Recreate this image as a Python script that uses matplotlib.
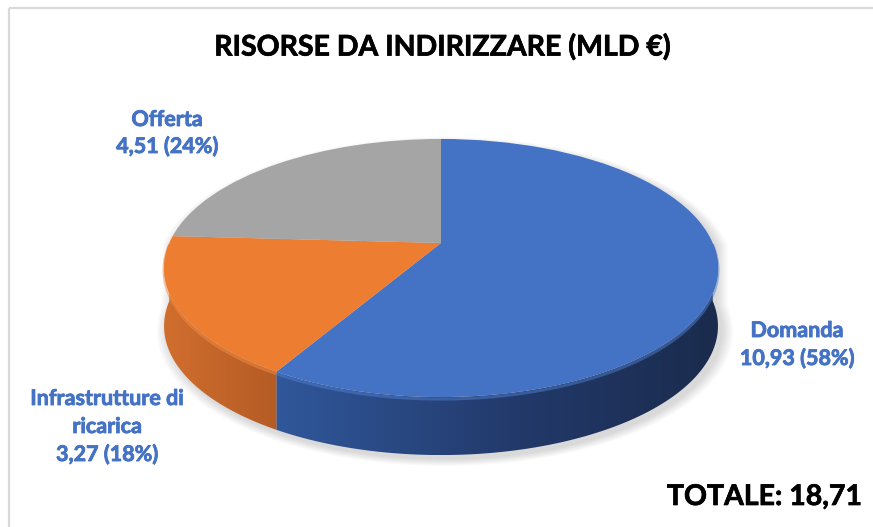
import numpy as np
import matplotlib
matplotlib.use("Agg")
import matplotlib.pyplot as plt
import matplotlib.patheffects as pe
from matplotlib.transforms import Transform
from matplotlib.patches import Polygon
from matplotlib.colors import to_rgb

# ---------------- data ----------------
categories = ["Domanda", "Infrastrutture di\nricarica", "Offerta"]
values = [10.93, 3.27, 4.51]
pct_labels = [58, 18, 24]
top_colors = ["#4472C4", "#ED7D31", "#A5A5A5"]
title = "RISORSE DA INDIRIZZARE (MLD €)"
total_prefix = "TOTALE: "

# ---------------- layout / style ----------------
W, H = 873, 527
FONT = ["Lato", "DejaVu Sans"]
LABEL_COLOR = "#4472C4"
APEX_X, APEX_Y = 441, 243      # pie centre on screen (px)
A_, B_, E_ = 271.7, 124.2, 0.1938   # perspective parameters
THICK = 58                     # side depth (px)
# side gradient anchors along screen x (px)
side_grad = [[(280, "#30579A"), (520, "#22396A"), (720, "#1A2B4C")],
             [(160, "#D26F2E"), (285, "#B25A24")],
             [(160, "#7F7F7F"), (720, "#5F5F5F")]]
bevel_colors = ["#4F7FCF", "#F38C42", "#BDBDBD"]
label_layout = [(797, [337, 365]), (107, [405, 433, 461]), (167, [126, 153])]


class Perspective(Transform):
    """Maps the unit pie disc to a tilted disc on screen (pixel coords)."""
    input_dims = output_dims = 2
    is_separable = False
    has_inverse = False

    def transform_non_affine(self, xy):
        xy = np.asarray(xy, dtype=float)
        u, v = xy[:, 0], xy[:, 1]
        d = 1 + E_ * v
        return np.column_stack([APEX_X + A_ * u / d, APEX_Y - B_ * v / d])


persp = Perspective()

fig = plt.figure(figsize=(W / 100, H / 100), dpi=100)
ax = fig.add_axes([0, 0, 1, 1])

wedges, _ = ax.pie(values, colors=top_colors, startangle=90,
                   counterclock=False, radius=1, center=(0, 0),
                   wedgeprops=dict(linewidth=0, zorder=5))
for w in wedges:
    w.set_transform(persp + ax.transData)


def edge(ts):
    return persp.transform(np.column_stack([np.cos(ts), np.sin(ts)]))


# shadow
t_all = np.linspace(0, 2 * np.pi, 400)
ring = edge(t_all)
xs, ys = ring[:, 0], ring[:, 1]
ys_sil = np.where(np.sin(t_all) < 0, ys + THICK, ys)
mx, my = xs.mean(), ys_sil.mean()
for k in range(10):
    grow = 1 + 0.0045 * k
    ax.fill((xs - mx) * grow + mx + 4, (ys_sil - my) * grow + my + 4,
            color="#808080", alpha=0.03, lw=0, zorder=1)


def grad_colors(xpx, anchors):
    ax_x = [a[0] for a in anchors]
    cols = np.array([to_rgb(a[1]) for a in anchors])
    return np.stack([np.interp(xpx, ax_x, cols[:, i]) for i in range(3)], axis=-1)


# sides
for w, g, bc in zip(wedges, side_grad, bevel_colors):
    t1, t2 = w.theta1, w.theta2
    for lo, hi in [(-180, 0), (180, 360), (-540, -360)]:
        a, b = max(t1, lo), min(t2, hi)
        if b <= a:
            continue
        ts = np.radians(np.linspace(a, b, 200))
        top = edge(ts)
        bot = top + np.array([0, THICK])
        poly = np.vstack([top, bot[::-1]])
        patch = Polygon(poly, closed=True, fc="none", ec="none")
        ax.add_patch(patch)
        x0, x1 = poly[:, 0].min(), poly[:, 0].max()
        y0, y1 = poly[:, 1].min(), poly[:, 1].max()
        xg = np.linspace(x0, x1, 300)
        img = grad_colors(xg, g)[None, :, :]
        im = ax.imshow(img, extent=[x0, x1, y1, y0], aspect="auto",
                       interpolation="bilinear", zorder=3)
        im.set_clip_path(patch)
        ax.plot(top[:, 0], top[:, 1] + 2.0, color=bc, lw=2.2, alpha=0.5,
                zorder=4, solid_capstyle="butt")

ax.set_xlim(0, W)
ax.set_ylim(H, 0)
ax.set_aspect("auto")
ax.axis("off")

# frame
ax.plot([8.5, 8.5], [H, 7.5], color="#D9D9D9", lw=1.6, solid_capstyle="butt")
ax.plot([8.5, W], [7.5, 7.5], color="#D9D9D9", lw=1.6, solid_capstyle="butt")


def heavy(color, w):
    return [pe.withStroke(linewidth=w, foreground=color)]


# title
ax.text(442, 47, title, ha="center", va="center", fontsize=20.5,
        fontweight="bold", family=FONT, color="black",
        path_effects=heavy("black", 0.5))

# total
total = sum(values)
ax.text(862, 505, total_prefix + f"{total:.2f}".replace(".", ","),
        ha="right", va="baseline", fontsize=20.5, fontweight="bold",
        family=FONT, color="black", path_effects=heavy("black", 0.5))

# labels
for cat, v, p, (lx, bases) in zip(categories, values, pct_labels, label_layout):
    lines = cat.split("\n") + [f"{v:.2f}".replace(".", ",") + f" ({p}%)"]
    for line, by in zip(lines, bases):
        ax.text(lx, by, line, ha="center", va="baseline", fontsize=15.5,
                fontweight="bold", family=FONT, color=LABEL_COLOR,
                path_effects=heavy(LABEL_COLOR, 0.6))

fig.savefig("out.png", dpi=100)
